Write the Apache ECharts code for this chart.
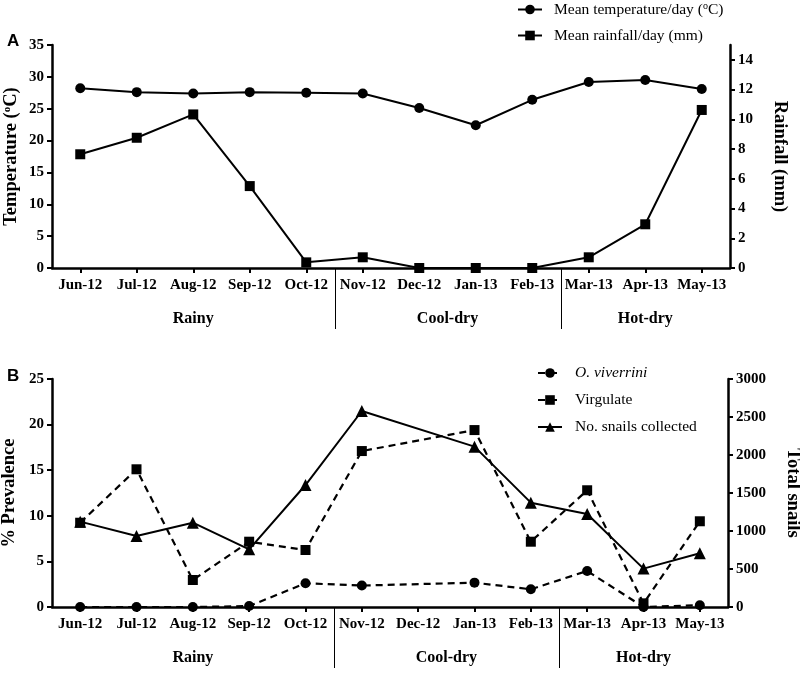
<!DOCTYPE html>
<html>
<head>
<meta charset="utf-8">
<script src="https://cdn.jsdelivr.net/npm/echarts@6/dist/echarts.min.js"></script>
<style>html,body{margin:0;padding:0;background:#fff}#c{width:800px;height:676px}</style>
</head>
<body>
<div id="c"></div>
<script>
const months = ['Jun-12','Jul-12','Aug-12','Sep-12','Oct-12','Nov-12','Dec-12','Jan-13','Feb-13','Mar-13','Apr-13','May-13'];
const temperature = [28.2,27.6,27.4,27.6,27.5,27.4,25.1,22.4,26.4,29.2,29.5,28.1];
const rainfall = [7.65,8.76,10.33,5.51,0.38,0.72,0,0,0,0.72,2.94,10.63];
const oViverrini = [0,0,0,0.1,2.6,2.35,null,2.67,1.94,3.95,0,0.2];
const virgulate = [9.24,15.1,2.96,7.16,6.25,17.1,null,19.4,7.16,12.8,0.4,9.4];
const snails = [1123,934,1109,759,1605,2579,null,2110,1373,1223,505,708];
const tempTicks = [0,5,10,15,20,25,30,35];
const rainTicks = [0,2,4,6,8,10,12,14];
const seasons = ['Rainy','Cool-dry','Hot-dry'];
const seasonStart = ['Jun-12','Nov-12','Mar-13'];
const seasonEnd = ['Oct-12','Feb-13','May-13'];

const FONT = 'Liberation Serif';
const BLACK = '#000';
const axisLineStyle = {lineStyle:{color:BLACK,width:2.5}};
const tickStyle = {show:true,length:5,lineStyle:{color:BLACK,width:2}};
const tickLabel = {color:BLACK,fontFamily:FONT,fontWeight:'bold',fontSize:15,formatter:function(v){return String(v);}};

function xAxis(gi){
  return {type:'category',gridIndex:gi,data:months,boundaryGap:true,
    axisLine:axisLineStyle,axisTick:{...tickStyle,alignWithLabel:true},
    axisLabel:{color:BLACK,fontFamily:FONT,fontWeight:'bold',fontSize:15,margin:10,interval:0},splitLine:{show:false}};
}
function yAxis(gi,pos,min,max,interval,name,nameGap,rot,extra){
  return Object.assign({type:'value',gridIndex:gi,position:pos,min:min,max:max,interval:interval,
    name:name,nameLocation:'middle',nameGap:nameGap,nameRotate:rot,nameMoveOverlap:false,
    nameTextStyle:{color:BLACK,fontFamily:FONT,fontWeight:'bold',fontSize:18.5,
      rich:{sup:{fontSize:11,fontFamily:FONT,fontWeight:'bold',verticalAlign:'top',padding:[0,0,8,0]}}},
    axisLine:{show:true,...axisLineStyle},axisTick:tickStyle,
    axisLabel:{...tickLabel,margin:8},splitLine:{show:false}},extra||{});
}

const chart = echarts.init(document.getElementById('c'),null,{renderer:'canvas'});
const option = {
  backgroundColor:'#fff',
  animation:false,
  title:[
    {text:'A',left:2,top:28,textStyle:{fontFamily:'Liberation Sans',fontWeight:'bold',fontSize:17,color:BLACK}},
    {text:'B',left:2,top:363,textStyle:{fontFamily:'Liberation Sans',fontWeight:'bold',fontSize:17,color:BLACK}}
  ],
  legend:[
    {left:512,top:-4,orient:'vertical',itemWidth:24,itemHeight:12,itemGap:10,
      data:['Mean temperature/day (°C)','Mean rainfall/day (mm)'],
      formatter:function(n){return n.indexOf('temperature')>=0?'Mean temperature/day ({sup|o}C)':n;},
      textStyle:{color:BLACK,fontFamily:FONT,fontSize:15.5,padding:[0,0,0,7],
        rich:{sup:{fontSize:10,fontFamily:FONT,verticalAlign:'top',padding:[0,0,7,0]}}}},
    {left:532,top:360,orient:'vertical',itemWidth:24,itemHeight:12,itemGap:11,
      data:['O. viverrini','Virgulate','No. snails collected'],
      formatter:function(n){return n==='O. viverrini'?'{i|O. viverrini}':n;},
      textStyle:{color:BLACK,fontFamily:FONT,fontSize:15.5,padding:[0,0,0,8],
        rich:{i:{fontStyle:'italic',fontFamily:FONT,fontSize:15.5}}}}
  ],
  grid:[
    {left:52,right:70,top:45,height:223,outerBoundsMode:'none',containLabel:false},
    {left:52,right:72,top:379,height:228,outerBoundsMode:'none',containLabel:false}
  ],
  xAxis:[xAxis(0),xAxis(1)],
  yAxis:[
    yAxis(0,'left',0,35,5,'Temperature ({sup|o}C)',31,90),
    yAxis(0,'right',0,15,2,'Rainfall (mm)',40,-90,{axisTick:{...tickStyle,customValues:rainTicks},axisLabel:{...tickLabel,margin:8,customValues:rainTicks}}),
    yAxis(1,'left',0,25,5,'% Prevalence',33,90),
    yAxis(1,'right',0,3000,500,'Total snails',55,-90)
  ],
  series:[
    {name:'Mean temperature/day (°C)',type:'line',xAxisIndex:0,yAxisIndex:0,data:temperature,
      symbol:'circle',symbolSize:10,lineStyle:{color:BLACK,width:2},itemStyle:{color:BLACK}},
    {name:'Mean rainfall/day (mm)',type:'line',xAxisIndex:0,yAxisIndex:1,data:rainfall,
      symbol:'rect',symbolSize:10,lineStyle:{color:BLACK,width:2},itemStyle:{color:BLACK}},
    {name:'O. viverrini',type:'line',xAxisIndex:1,yAxisIndex:2,data:oViverrini,connectNulls:true,
      symbol:'circle',symbolSize:10,lineStyle:{color:BLACK,width:2.2,type:[7,5]},itemStyle:{color:BLACK}},
    {name:'Virgulate',type:'line',xAxisIndex:1,yAxisIndex:2,data:virgulate,connectNulls:true,
      symbol:'rect',symbolSize:10,lineStyle:{color:BLACK,width:2.2,type:[7,5]},itemStyle:{color:BLACK}},
    {name:'No. snails collected',type:'line',xAxisIndex:1,yAxisIndex:3,data:snails,connectNulls:true,
      symbol:'triangle',symbolSize:12,lineStyle:{color:BLACK,width:2},itemStyle:{color:BLACK}}
  ]
};
chart.setOption(option);

// Season labels and dividers positioned through the axes' own scales
const graphics = [];
[[0,0],[1,2]].forEach(function(p){
  const gi = p[0], yi = p[1];
  const x0 = chart.convertToPixel({xAxisIndex:gi}, months[0]);
  const x1 = chart.convertToPixel({xAxisIndex:gi}, months[1]);
  const bw = x1 - x0;
  const yAxisPx = chart.convertToPixel({yAxisIndex:yi}, 0);
  seasons.forEach(function(s,i){
    const a = chart.convertToPixel({xAxisIndex:gi}, seasonStart[i]);
    const b = chart.convertToPixel({xAxisIndex:gi}, seasonEnd[i]);
    graphics.push({type:'text',x:(a+b)/2,y:yAxisPx+51,
      style:{text:s,fill:BLACK,font:'bold 16px "Liberation Serif"',textAlign:'center',textVerticalAlign:'middle'}});
    if(i < seasons.length-1){
      const xd = Math.round(b + bw/2)+0.5;
      graphics.push({type:'line',shape:{x1:xd,y1:yAxisPx+1,x2:xd,y2:yAxisPx+61},
        style:{stroke:BLACK,lineWidth:1}});
    }
  });
});
chart.setOption({graphic:graphics});
</script>
</body>
</html>
